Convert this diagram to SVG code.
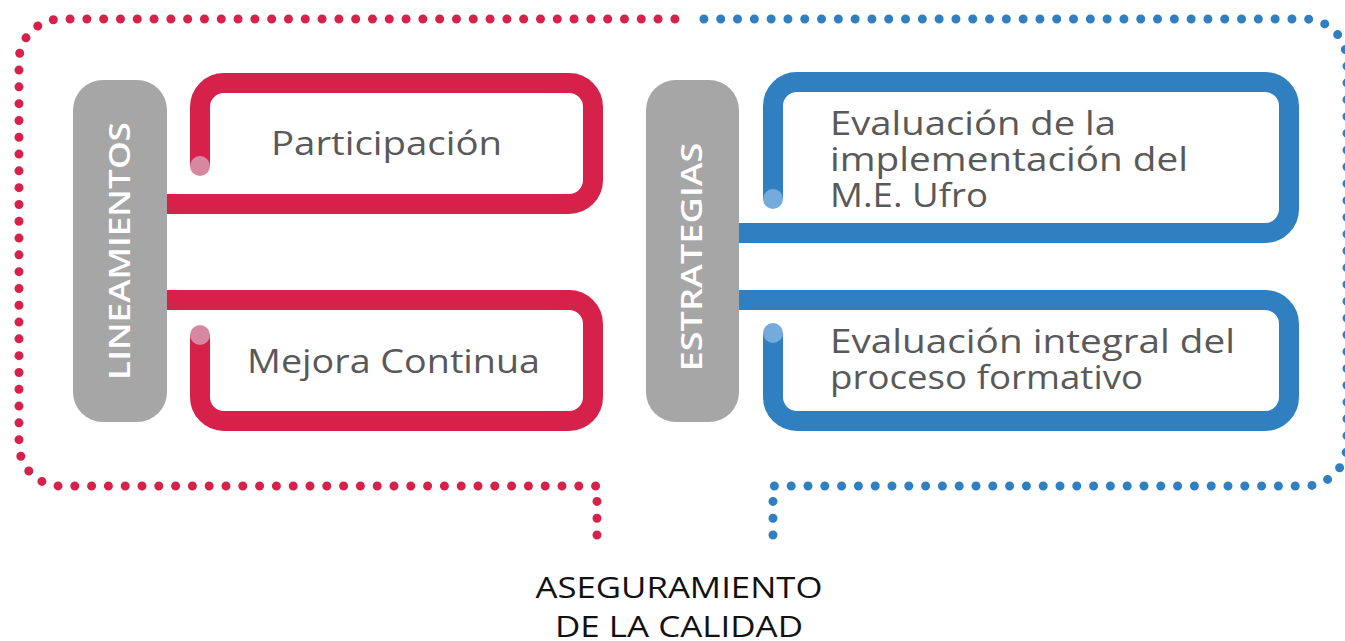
<svg xmlns="http://www.w3.org/2000/svg" width="1345" height="641" viewBox="0 0 1345 641">
<style>
.dotR{fill:none;stroke:#D6224A;stroke-width:9;stroke-linecap:round;stroke-dasharray:0 16.8}
.dotB{fill:none;stroke:#2F7FC1;stroke-width:9;stroke-linecap:round;stroke-dasharray:0 16.8}
.pill{fill:#A6A6A6}
.pillT{font-family:"Open Sans","Liberation Sans",sans-serif;font-size:29px;font-weight:600;fill:#FFFFFF;text-anchor:middle}
.uR{fill:none;stroke:#D6224A;stroke-width:20}
.uB{fill:none;stroke:#2F7FC1;stroke-width:20}
.endR{fill:#D5889F}
.endB{fill:#75AADD}
.lbl{font-family:"Open Sans","Liberation Sans",sans-serif;font-size:32px;fill:#595959}
.foot{font-family:"Open Sans","Liberation Sans",sans-serif;font-size:29px;fill:#111111;text-anchor:middle}
</style>
<rect width="1345" height="641" fill="#FFFFFF"/>
<g id="connectors">
<path class="dotR" d="M597,535 V486 H61 A42,42 0 0 1 19,444 V61 A42,42 0 0 1 61,19 H681"/>
<path class="dotB" d="M773,535 V486 H1305 A42,42 0 0 0 1347,444 V61 A42,42 0 0 0 1305,19 H700"/>
</g>
<g id="lineamientos">
<rect class="pill" x="73" y="80" width="94" height="342" rx="30"/>
<text class="pillT" transform="translate(130,251) rotate(-90)" textLength="258" lengthAdjust="spacingAndGlyphs">LINEAMIENTOS</text>
</g>
<g id="participacion">
<path class="uR" d="M200,166 V107 A24,24 0 0 1 224,83 H569 A24,24 0 0 1 593,107 V180 A24,24 0 0 1 569,204 H167"/>
<circle class="endR" cx="200" cy="166" r="10"/>
<text class="lbl" x="271" y="155" textLength="231" lengthAdjust="spacingAndGlyphs">Participación</text>
</g>
<g id="mejora">
<path class="uR" d="M167,300 H569 A24,24 0 0 1 593,324 V397 A24,24 0 0 1 569,421 H224 A24,24 0 0 1 200,397 V335"/>
<circle class="endR" cx="200" cy="335" r="10"/>
<text class="lbl" x="247" y="373" textLength="293" lengthAdjust="spacingAndGlyphs">Mejora Continua</text>
</g>
<g id="estrategias">
<rect class="pill" x="646" y="80" width="93" height="342" rx="30"/>
<text class="pillT" transform="translate(702,257) rotate(-90)" textLength="229" lengthAdjust="spacingAndGlyphs">ESTRATEGIAS</text>
</g>
<g id="evaluacion-implementacion">
<path class="uB" d="M773,199 V106 A24,24 0 0 1 797,82 H1265 A24,24 0 0 1 1289,106 V209 A24,24 0 0 1 1265,233 H739"/>
<circle class="endB" cx="773" cy="199" r="10"/>
<text class="lbl" x="830" y="135" textLength="286" lengthAdjust="spacingAndGlyphs">Evaluación de la</text>
<text class="lbl" x="830" y="171" textLength="358" lengthAdjust="spacingAndGlyphs">implementación del</text>
<text class="lbl" x="830" y="207" textLength="158" lengthAdjust="spacingAndGlyphs">M.E. Ufro</text>
</g>
<g id="evaluacion-integral">
<path class="uB" d="M739,300 H1265 A24,24 0 0 1 1289,324 V397 A24,24 0 0 1 1265,421 H797 A24,24 0 0 1 773,397 V333"/>
<circle class="endB" cx="773" cy="333" r="10"/>
<text class="lbl" x="830" y="353" textLength="405" lengthAdjust="spacingAndGlyphs">Evaluación integral del</text>
<text class="lbl" x="830" y="389" textLength="313" lengthAdjust="spacingAndGlyphs">proceso formativo</text>
</g>
<g id="aseguramiento">
<text class="foot" x="679" y="598" textLength="287" lengthAdjust="spacingAndGlyphs">ASEGURAMIENTO</text>
<text class="foot" x="679" y="637" textLength="248" lengthAdjust="spacingAndGlyphs">DE LA CALIDAD</text>
</g>
</svg>
